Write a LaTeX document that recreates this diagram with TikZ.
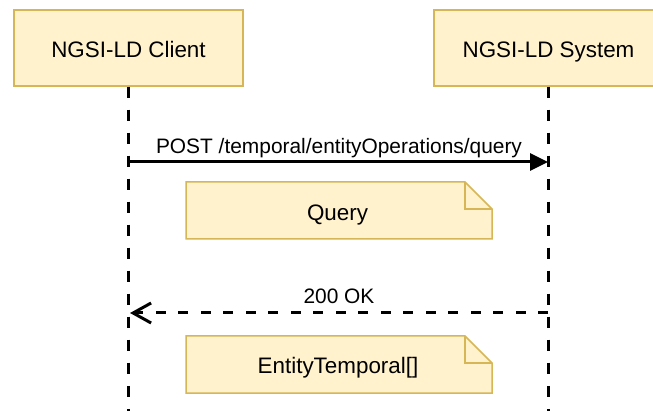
\documentclass[tikz,border=0pt]{standalone}
\usepackage{fontspec}
\setmainfont{Liberation Sans}
\usetikzlibrary{arrows.meta}
\definecolor{notefill}{HTML}{FFF2CC}
\definecolor{notedraw}{HTML}{D6B656}
\tikzset{
  actor/.style={draw=notedraw, fill=notefill, line width=1.5pt, minimum width=229pt, minimum height=76pt, inner sep=0pt, font=\fontsize{22.4}{26}\selectfont, text=black},
  lifeline/.style={line width=3pt, dash pattern=on 11pt off 12pt},
  msg/.style={line width=3pt},
  lbl/.style={font=\fontsize{20.9}{24}\selectfont, anchor=base, inner sep=0pt},
  notetext/.style={font=\fontsize{22.4}{26}\selectfont, anchor=base, inner sep=0pt},
  noteshape/.style={draw=notedraw, fill=notefill, line width=1.5pt, line join=miter},
}
\begin{document}
\begin{tikzpicture}[x=1pt,y=-1pt]
\useasboundingbox (0,0) rectangle (653,411);
\clip (0,0) rectangle (653,411);
% actors
\node[actor] (client) at (128.5,48) {};
\node[actor] (system) at (548.5,48) {};
\node[notetext] (clientlbl) at (128.5,57.3) {NGSI-LD Client};
\node[notetext] (systemlbl) at (548.5,57.3) {NGSI-LD System};
% lifelines
\coordinate (cend) at (128,411);
\coordinate (send) at (548,411);
\draw[lifeline] (client.south -| cend) -- (cend);
\draw[lifeline] (system.south -| send) -- (send);
% POST message
\coordinate (p1) at (128,162);
\coordinate (p2) at (548,162);
\draw[msg, -{Triangle[length=18pt,width=17pt]}] (p1) -- (p2);
\node[lbl] (postlbl) at (339,153.3) {POST /temporal/entityOperations/query};
% Query note
\draw[noteshape] (186,182) -- (465,182) -- (492,209) -- (492,239) -- (186,239) -- cycle;
\draw[noteshape, fill=none] (465,182) -- (465,209) -- (492,209);
\node[notetext] (query) at (337.5,220.7) {Query};
% 200 OK
\coordinate (r1) at (548,313);
\coordinate (r2) at (130,313);
\draw[msg, dash pattern=on 10pt off 12.5pt, -{Straight Barb[length=18pt,width=20pt,line width=3pt]}] (r1) -- (r2);
\node[lbl] (oklbl) at (339,304) {200 OK};
% EntityTemporal note
\draw[noteshape] (186,336) -- (465,336) -- (492,363) -- (492,393) -- (186,393) -- cycle;
\draw[noteshape, fill=none] (465,336) -- (465,363) -- (492,363);
\node[notetext] (et) at (338,373.3) {EntityTemporal[]};
\end{tikzpicture}
\end{document}
